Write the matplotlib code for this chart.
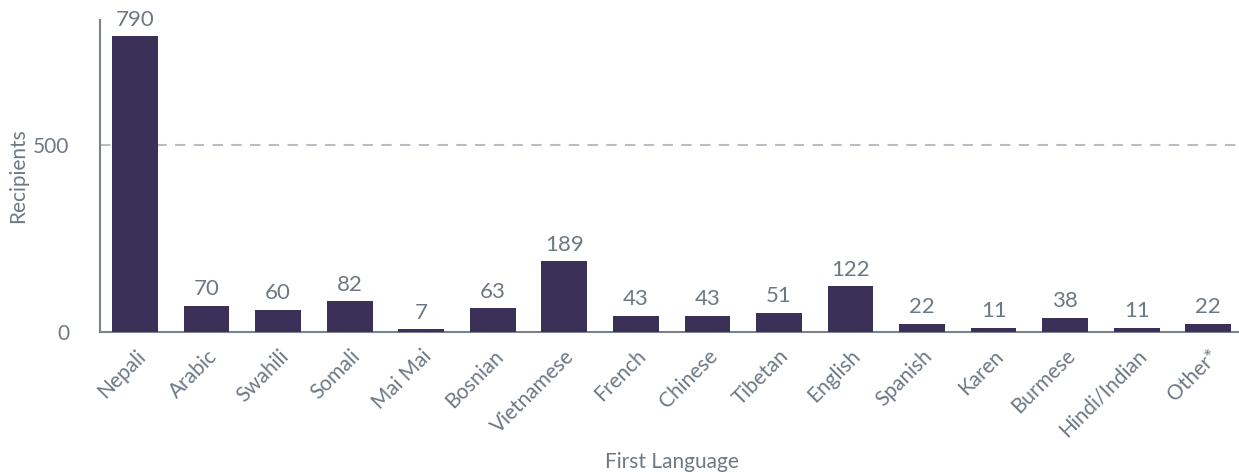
import matplotlib
matplotlib.use("Agg")
import matplotlib.pyplot as plt

languages = ["Nepali", "Arabic", "Swahili", "Somali", "Mai Mai", "Bosnian", "Vietnamese",
             "French", "Chinese", "Tibetan", "English", "Spanish", "Karen", "Burmese",
             "Hindi/Indian", "Other*"]
recipients = [790, 70, 60, 82, 7, 63, 189, 43, 43, 51, 122, 22, 11, 38, 11, 22]
y_ticks = [0, 500]

plt.rcParams['font.family'] = ['Lato', 'DejaVu Sans']
text_col = "#6e7884"
bar_col = "#3b3058"
spine_col = "#7a838d"

fig = plt.figure(figsize=(12.39, 4.72), dpi=100)
ax = fig.add_axes([0.0807, 0.2966, 0.9193, 0.661])

x = list(range(len(languages)))
ax.bar(x, recipients, width=0.64, color=bar_col, zorder=3)
for xi, v in zip(x, recipients):
    ax.text(xi, v + 18, str(v), ha='center', va='bottom', fontsize=16, color=text_col)

ax.set_xlim(-0.49, 15.43)
ax.set_ylim(0, 834)
ax.set_yticks(y_ticks)
ax.set_yticklabels([str(t) for t in y_ticks])
ax.axhline(500, color="#b8bec5", linestyle=(0, (5, 4)), linewidth=1.5, zorder=1)

ax.set_xticks(x)
ax.set_xticklabels(languages, rotation=45, ha='right', rotation_mode='anchor')
ax.tick_params(axis='both', length=0, colors=text_col, labelsize=15)
ax.tick_params(axis='x', pad=10)
ax.tick_params(axis='y', pad=22)

for s in ['top', 'right']:
    ax.spines[s].set_visible(False)
for s in ['left', 'bottom']:
    ax.spines[s].set_color(spine_col)
    ax.spines[s].set_linewidth(1.5)

ax.set_ylabel("Recipients", fontsize=15, color=text_col)
ax.yaxis.set_label_coords(-72 / 1139, 0.5)
ax.set_xlabel("First Language", fontsize=15, color=text_col)
ax.xaxis.set_label_coords(0.5 + (672 - 669.5) / 1139, -0.385)

fig.savefig("out.png", dpi=100)
